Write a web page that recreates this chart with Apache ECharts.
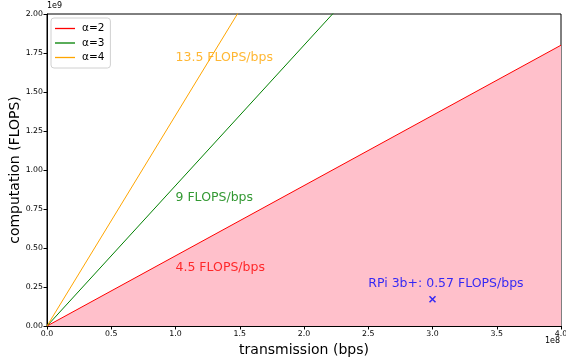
<!DOCTYPE html>
<html><head><meta charset="utf-8">
<script src="https://cdn.jsdelivr.net/npm/echarts@6/dist/echarts.min.js"></script>
<style>html,body{margin:0;padding:0;background:#fff}#c{width:566px;height:363px}</style>
</head><body><div id="c"></div>
<script>
const FONT = 'DejaVu Sans';
// line endpoints (bps, FLOPS)
const alpha2Line = [[0, 0], [4e8, 1.8e9]];
const alpha3Line = [[0, 0], [4e8, 3.6e9]];
const alpha4Line = [[0, 0], [4e8, 5.4e9]];
const seriesNames = ['α=2', 'α=3', 'α=4'];
const rpiPoint = [[3e8, 1.71e8]];
// annotations: [x, y, text, colour]
const annotations = [
  [1e8, 1.7e9, '13.5 FLOPS/bps', '#ffa500'],
  [1e8, 0.8e9, '9 FLOPS/bps', '#008000'],
  [1e8, 0.35e9, '4.5 FLOPS/bps', '#ff0000'],
  [2.5e8, 0.25e9, 'RPi 3b+: 0.57 FLOPS/bps', '#0000ff']
];
const xTicks = [0, 0.5, 1.0, 1.5, 2.0, 2.5, 3.0, 3.5, 4.0];
const yTicks = [0, 0.25, 0.5, 0.75, 1.0, 1.25, 1.5, 1.75, 2.0];

const chart = echarts.init(document.getElementById('c'));
const annoSeries = annotations.map(a => ({
  type: 'scatter', symbolSize: 0, silent: true, z: 5,
  data: [[a[0], a[1]]],
  label: {show: true, position: [0, 0], align: 'left', verticalAlign: 'bottom',
    formatter: a[2], color: a[3], fontSize: 12.5, fontFamily: FONT, offset: [0, 3]}
}));
chart.setOption({
  animation: false,
  textStyle: {fontFamily: FONT},
  grid: {left: 47, right: 5, top: 14, bottom: 37, containLabel: false, outerBoundsMode: 'none',
    show: true, borderColor: '#000', borderWidth: 1, backgroundColor: 'transparent'},
  legend: {
    orient: 'vertical', left: 51, top: 18, data: seriesNames, icon: 'rect',
    borderColor: '#d0d0d0', borderWidth: 1, borderRadius: 3, padding: [5, 6, 5, 4],
    backgroundColor: 'rgba(255,255,255,0.8)',
    itemWidth: 20, itemHeight: 1.3, itemGap: 3.5,
    textStyle: {fontSize: 10.5, fontFamily: FONT, color: '#000', padding: [0, 0, 0, 2]}
  },
  xAxis: {
    type: 'value', min: 0, max: 4e8, interval: 0.5e8,
    name: 'transmission (bps)', nameLocation: 'middle', nameGap: 17, nameMoveOverlap: false,
    nameTextStyle: {fontSize: 14, color: '#000', fontFamily: FONT},
    axisLine: {show: true, lineStyle: {color: '#000', width: 1}},
    axisTick: {show: true, length: 3.5, lineStyle: {color: '#000'}},
    axisLabel: {fontSize: 7.8, color: '#000', margin: 4, formatter: v => (v / 1e8).toFixed(1)},
    splitLine: {show: false}
  },
  yAxis: {
    type: 'value', min: 0, max: 2e9, interval: 0.25e9,
    name: 'computation (FLOPS)', nameLocation: 'middle', nameGap: 25, nameRotate: 90, nameMoveOverlap: false,
    nameTextStyle: {fontSize: 14, color: '#000', fontFamily: FONT},
    axisLine: {show: true, lineStyle: {color: '#000', width: 1}},
    axisTick: {show: true, length: 3.5, lineStyle: {color: '#000'}},
    axisLabel: {fontSize: 7.8, color: '#000', margin: 4, formatter: v => (v / 1e9).toFixed(2)},
    splitLine: {show: false}
  },
  graphic: [
    {type: 'text', left: 47, top: 2, style: {text: '1e9', fontSize: 8, fill: '#000', fontFamily: FONT}},
    {type: 'text', right: 6, top: 337, style: {text: '1e8', fontSize: 8, fill: '#000', fontFamily: FONT}}
  ],
  series: [
    {name: seriesNames[0], type: 'line', data: alpha2Line, symbol: 'none', clip: true,
      lineStyle: {color: '#ff0000', width: 1}, itemStyle: {color: '#ff0000'},
      areaStyle: {color: '#ffc0cb', opacity: 1}, z: 2},
    {name: seriesNames[1], type: 'line', data: alpha3Line, symbol: 'none', clip: true,
      lineStyle: {color: '#008000', width: 1}, itemStyle: {color: '#008000'}, z: 3},
    {name: seriesNames[2], type: 'line', data: alpha4Line, symbol: 'none', clip: true,
      lineStyle: {color: '#ffa500', width: 1}, itemStyle: {color: '#ffa500'}, z: 3},
    {type: 'scatter', data: rpiPoint, symbol: 'path://M0,0L10,10M10,0L0,10', symbolSize: 6,
      itemStyle: {color: 'none', borderColor: '#0000ff', borderWidth: 1.5}, z: 6},
    ...annoSeries
  ]
});
</script></body></html>
